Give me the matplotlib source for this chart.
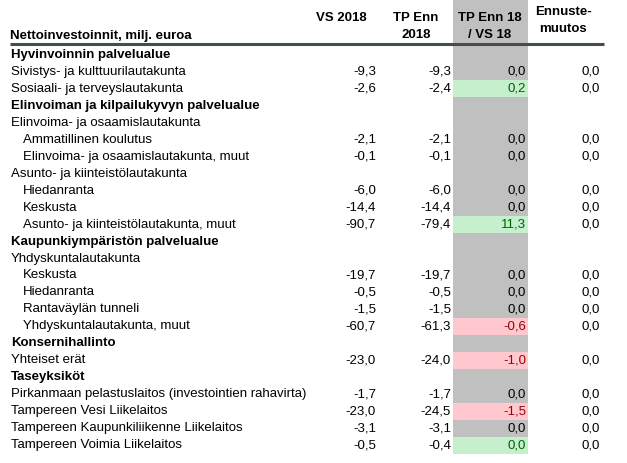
import matplotlib.pyplot as plt
from matplotlib.patches import Rectangle

plt.rcParams['font.family'] = ['Liberation Sans', 'DejaVu Sans']

# rows of the table
labels = [
    "Hyvinvoinnin palvelualue",
    "Sivistys- ja kulttuurilautakunta",
    "Sosiaali- ja terveyslautakunta",
    "Elinvoiman ja kilpailukyvyn palvelualue",
    "Elinvoima- ja osaamislautakunta",
    "Ammatillinen koulutus",
    "Elinvoima- ja osaamislautakunta, muut",
    "Asunto- ja kiinteistölautakunta",
    "Hiedanranta",
    "Keskusta",
    "Asunto- ja kiinteistölautakunta, muut",
    "Kaupunkiympäristön palvelualue",
    "Yhdyskuntalautakunta",
    "Keskusta",
    "Hiedanranta",
    "Rantaväylän tunneli",
    "Yhdyskuntalautakunta, muut",
    "Konsernihallinto",
    "Yhteiset erät",
    "Taseyksiköt",
    "Pirkanmaan pelastuslaitos (investointien rahavirta)",
    "Tampereen Vesi Liikelaitos",
    "Tampereen Kaupunkiliikenne Liikelaitos",
    "Tampereen Voimia Liikelaitos",
]
bold = [1, 0, 0, 1, 0, 0, 0, 0, 0, 0, 0, 1, 0, 0, 0, 0, 0, 1, 0, 1, 0, 0, 0, 0]
indent = [0, 0, 0, 0, 0, 1, 1, 0, 1, 1, 1, 0, 0, 1, 1, 1, 1, 0, 0, 0, 0, 0, 0, 0]

vs2018 = [None, -9.3, -2.6, None, None, -2.1, -0.1, None, -6.0, -14.4, -90.7, None, None,
          -19.7, -0.5, -1.5, -60.7, None, -23.0, None, -1.7, -23.0, -3.1, -0.5]
tp2018 = [None, -9.3, -2.4, None, None, -2.1, -0.1, None, -6.0, -14.4, -79.4, None, None,
          -19.7, -0.5, -1.5, -61.3, None, -24.0, None, -1.7, -24.5, -3.1, -0.4]
diff = [None, 0.0, 0.2, None, None, 0.0, 0.0, None, 0.0, 0.0, 11.3, None, None,
        0.0, 0.0, 0.0, -0.6, None, -1.0, None, 0.0, -1.5, 0.0, 0.0]
ennuste = [None, 0.0, 0.0, None, None, 0.0, 0.0, None, 0.0, 0.0, 0.0, None, None,
           0.0, 0.0, 0.0, 0.0, None, 0.0, None, 0.0, 0.0, 0.0, 0.0]
# g = better, r = worse, '' = neutral
status = ['', '', 'g', '', '', '', '', '', '', '', 'g', '', '', '', '', '', 'r', '', 'r', '', '', 'r', '', 'g']

def fmt(v):
    return f"{v:.1f}".replace(".", ",")

fig = plt.figure(figsize=(6.27, 4.63), dpi=100)
ax = fig.add_axes([0, 0, 1, 1])
ax.set_xlim(0, 627)
ax.set_ylim(463, 0)
ax.axis("off")

fs = 9.5
y0, rh = 55, 16.96
col_right = [376, 451, 526, 600]
gx0, gx1 = 453, 528

# grey column
ax.add_patch(Rectangle((gx0, 0), gx1 - gx0, 452, color="#C0C0C0", lw=0, zorder=0))

# headers
ax.text(10, 36, "Nettoinvestoinnit, milj. euroa", fontsize=fs, weight="bold", va="center")
ax.text(341, 18, "VS 2018", fontsize=fs, weight="bold", ha="center", va="center")
ax.text(416, 18, "TP Enn", fontsize=fs, weight="bold", ha="center", va="center")
ax.text(416, 35, "2018", fontsize=fs, weight="bold", ha="center", va="center")
ax.text(490, 18, "TP Enn 18", fontsize=fs, weight="bold", ha="center", va="center")
ax.text(490, 35, "/ VS 18", fontsize=fs, weight="bold", ha="center", va="center")
ax.text(563, 12, "Ennuste-", fontsize=fs, weight="bold", ha="center", va="center")
ax.text(563, 29, "muutos", fontsize=fs, weight="bold", ha="center", va="center")
ax.plot([10, 604], [44, 44], color="#454b52", lw=2.2, solid_capstyle="butt")

fills = {'g': ("#C6EFCE", "#006100"), 'r': ("#FFC7CE", "#9C0006")}

for i, lab in enumerate(labels):
    y = y0 + i * rh
    ax.text(11 + 12 * indent[i], y, lab, fontsize=fs, va="center",
            weight="bold" if bold[i] else "normal")
    if vs2018[i] is None:
        continue
    tcol = "black"
    if status[i]:
        bg, tcol = fills[status[i]]
        ax.add_patch(Rectangle((gx0, y - rh / 2), gx1 - gx0, rh, color=bg, lw=0, zorder=0.5))
    for c, vals in enumerate([vs2018, tp2018, diff, ennuste]):
        ax.text(col_right[c], y, fmt(vals[i]), fontsize=fs, ha="right", va="center",
                color=tcol if c == 2 else "black")

fig.savefig("out.png", dpi=100)
